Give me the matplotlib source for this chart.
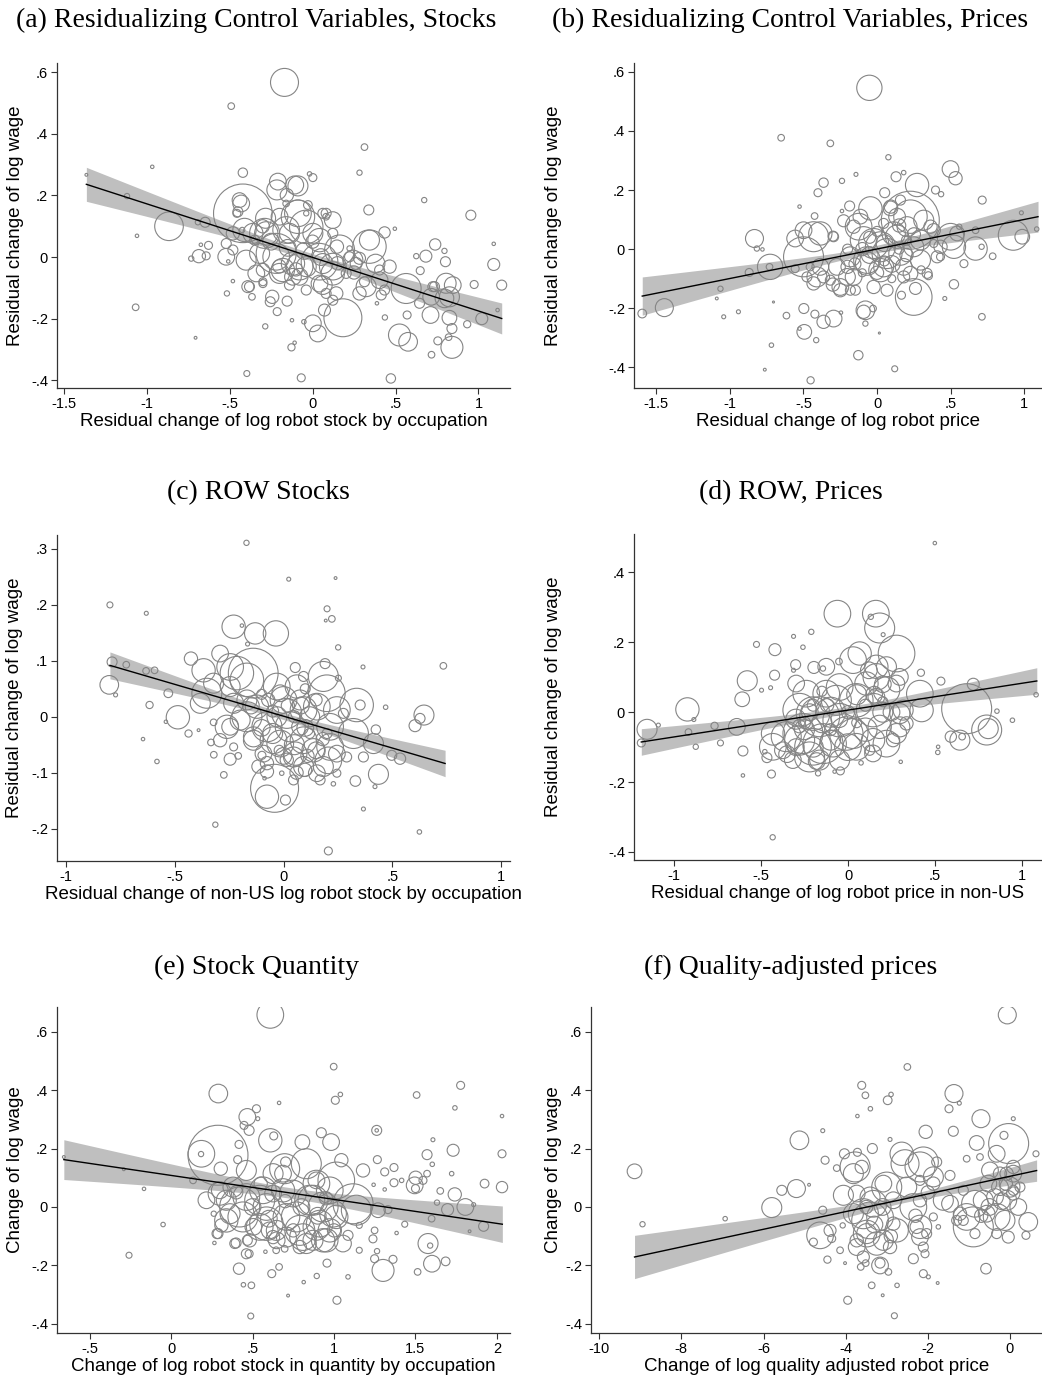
import numpy as np
import matplotlib
matplotlib.use("Agg")
import matplotlib.pyplot as plt

# ---- panel (a): residualized stocks ----
a_x = [-0.169, -0.49, 0.313, -0.966, -1.363, -0.42, 0.283, -1.118, 0.673, -0.018,
       0.002, -0.865, -1.058, -0.42, 0.954, 0.339, 1.092, 1.092, 1.14, 0.974,
       1.115, 1.02, 0.932, 0.84, 0.717, 0.755, 0.82, 0.472, -0.068, -0.396,
       -0.127, -0.108, -0.285, -0.124, -0.052, -0.705, -1.066, -0.516, 0.002, 0.032,
       0.183, 0.524, 0.576, 0.57, 0.436, 0.388, 0.711, 0.795, 0.825, 0.84,
       0.801, 0.739, 0.795, 0.683, 0.625, 0.649, 0.564, 0.735, 0.805, 0.496,
       0.434, 0.343, 0.343, 0.38, 0.323, 0.414, 0.283, 0.283, 0.203, 0.042,
       0.122, 0.062, 0.143, 0.072, 0.122, -0.038, 0.002, 0.062, 0.082, -0.028,
       -0.038, -0.088, -0.108, -0.209, -0.155, -0.159, -0.289, -0.219, -0.139, -0.359,
       -0.44, -0.456, -0.48, -0.424, -0.4, -0.339, -0.39, -0.365, -0.48, -0.508,
       -0.52, -0.685, -0.731, -0.647, -0.627, -0.641, -0.673, -0.691, -0.243, -0.255,
       -0.153, -0.213, -0.299, -0.179, -0.078, -0.118, 0.147, 0.223, 0.263, 0.122,
       0.223, 0.404, 0.434, 0.464,
       -0.215, -0.088, -0.43, -0.45, -0.283, -0.199, -0.088, 0.082, 0.122, -0.41,
       -0.349, -0.279, -0.159, -0.038, 0.042, 0.163, 0.243, -0.52, -0.48, -0.319,
       -0.219, -0.118, -0.038, 0.062, 0.122, 0.042, -0.078, -0.199, -0.299, -0.38,
       -0.299, -0.139, 0.082, 0.313, 0.404, 0.725, 0.715, 0.825, 0.845, 0.645,
       -0.25, -0.15, -0.05, 0.05, -0.3, -0.2, 0.0, 0.15, -0.1, 0.25]
a_y = [0.567, 0.49, 0.357, 0.293, 0.267, 0.274, 0.274, 0.198, 0.185, 0.27,
       0.258, 0.10, 0.069, 0.142, 0.136, 0.153, 0.043, -0.024, -0.091, -0.089,
       -0.172, -0.2, -0.218, -0.293, -0.317, -0.272, -0.26, -0.394, -0.392, -0.378,
       -0.293, -0.278, -0.225, -0.205, -0.21, -0.262, -0.163, -0.118, -0.215, -0.248,
       -0.197, -0.253, -0.275, -0.188, -0.196, -0.15, -0.188, -0.134, -0.197, -0.232,
       -0.015, 0.041, 0.02, 0.003, 0.003, -0.044, -0.102, -0.096, -0.085, 0.092,
       0.08, 0.055, 0.034, -0.021, -0.096, -0.123, -0.118, -0.004, -0.053, -0.015,
       -0.031, -0.091, -0.118, -0.172, -0.14, -0.107, 0.077, 0.142, 0.131, 0.169,
       0.142, 0.131, 0.234, 0.245, 0.201, 0.174, 0.077, 0.012, 0.077, 0.077,
       0.185, 0.142, 0.077, 0.088, -0.01, -0.053, -0.096, -0.129, -0.078, -0.014,
       0.044, 0.003, -0.005, 0.113, 0.038, 0.004, 0.04, 0.113, -0.129, -0.145,
       -0.143, -0.177, -0.08, -0.042, -0.031, -0.064, 0.034, 0.001, -0.021, 0.077,
       0.028, -0.075, -0.107, -0.031,
       0.218, 0.231, 0.174, 0.147, 0.126, 0.131, 0.142, 0.142, 0.12, 0.088,
       0.055, 0.077, 0.088, 0.098, 0.055, 0.023, -0.01, 0.001, 0.023, 0.012,
       0.001, -0.021, -0.031, -0.021, -0.053, -0.086, -0.064, -0.053, -0.042, -0.096,
       -0.086, -0.091, -0.118, -0.08, -0.042, -0.096, -0.129, -0.129, -0.091, -0.15,
       0.05, 0.03, 0.02, 0.0, 0.1, -0.03, 0.05, -0.02, -0.04, -0.05]
a_w = [196, 11, 11, 3, 2, 22, 7, 7, 7, 5,
       16, 205, 3, 860, 25, 25, 3, 36, 25, 16,
       3, 36, 13, 121, 11, 16, 11, 22, 16, 9,
       13, 3, 7, 3, 5, 2, 11, 7, 70, 70,
       360, 121, 87, 16, 7, 3, 70, 87, 54, 25,
       25, 32, 7, 36, 7, 16, 225, 25, 100, 3,
       32, 100, 280, 87, 100, 25, 44, 36, 25, 336,
       178, 87, 44, 36, 25, 25, 100, 25, 11, 19,
       7, 280, 81, 70, 44, 11, 225, 400, 100, 100,
       54, 16, 44, 7, 100, 70, 36, 11, 3, 3,
       25, 44, 7, 25, 16, 16, 3, 7, 44, 25,
       25, 16, 16, 136, 178, 70, 44, 25, 36, 25,
       7, 70, 25, 44,
       100, 100, 70, 25, 100, 70, 178, 25, 70, 136,
       25, 136, 178, 280, 136, 225, 100, 70, 25, 100,
       178, 136, 100, 100, 136, 70, 70, 100, 44, 25,
       16, 25, 25, 25, 25, 25, 70, 100, 70, 25,
       70, 70, 70, 70, 44, 44, 44, 44, 44, 44]
# fit: x from, x to, intercept, slope, ci half-width at mean, mean x, slope se
a_fit = [-1.363, 1.14, -0.001, -0.174, 0.012, -0.05, 0.041]

# ---- panel (b): residualized prices ----
b_x = [-0.052, -0.651, -0.317, 0.077, -0.143, 0.499, 0.533, 0.129, 0.181, -0.238,
       -0.363, -0.401, 0.226, 0.397, 0.435, 0.714, 0.052, -0.045, -0.186, -0.238,
       -0.227, -0.424, -0.526, -0.113, -0.299, -0.431, -0.556, -0.499, -0.832, -0.816,
       -0.778, -0.726, -0.73, -0.868, -1.063, -1.088, -1.444, -1.594, -1.041, -0.941,
       -0.703, -0.615, -0.497, -0.526, -0.494, -0.413, -0.422, -0.363, -0.295, -0.245,
       -0.717, -0.762, -0.451, -0.127, 0.12, 0.016, -0.079, -0.091, -0.027, -0.079,
       0.249, 0.261, 0.166, 0.522, 0.46, 0.349, 0.712, 0.59, 0.499, 0.544,
       0.669, 0.71, 0.669, 0.785, 0.925, 0.986, 0.98, 1.084, 0.558, -0.091,
       0.023, 0.113, 0.204, 0.295, 0.363, 0.295, 0.159, 0.045, -0.068, -0.181,
       -0.159, -0.023, 0.068, -0.272, -0.249, -0.317, -0.385, -0.431, -0.363, -0.454,
       -0.181, 0.181, 0.408, 0.385, 0.431, 0.227, -0.159, 0.093, 0.136, 0.159,
       0.045,
       0.272, 0.091, 0.227, -0.125, -0.295, -0.385, -0.499, -0.408, -0.204, -0.249,
       -0.147, 0.023, -0.068, 0.068, -0.023, 0.136, 0.249, 0.181, 0.317, 0.385,
       0.431, 0.34, 0.522, -0.476, -0.556, -0.1, 0.1, 0.0, 0.2, -0.2,
       0.3, 0.05, -0.05, 0.15, -0.15,
       -0.05, 0.05, 0.1, -0.1, 0.0, 0.2, -0.2, 0.25, 0.15, -0.3]
b_y = [0.546, 0.377, 0.358, 0.311, 0.253, 0.271, 0.24, 0.245, 0.259, 0.231,
       0.225, 0.191, 0.098, 0.2, 0.186, 0.166, 0.191, 0.138, 0.146, 0.129,
       0.096, 0.112, 0.144, 0.11, 0.044, 0.042, 0.036, -0.026, 0.036, 0.002,
       -0.001, -0.06, -0.06, -0.079, -0.134, -0.167, -0.198, -0.218, -0.229, -0.212,
       -0.179, -0.225, -0.201, -0.269, -0.28, -0.308, -0.22, -0.246, -0.235, -0.215,
       -0.325, -0.408, -0.444, -0.359, -0.405, -0.284, -0.207, -0.212, -0.201, -0.252,
       -0.162, -0.133, -0.156, -0.119, -0.167, -0.09, -0.229, -0.049, 0.042, 0.053,
       0.002, 0.008, 0.064, -0.024, 0.047, 0.042, 0.123, 0.068, 0.076, 0.031,
       0.008, 0.053, 0.076, 0.031, 0.076, -0.037, -0.015, -0.06, -0.049, -0.026,
       -0.094, -0.128, -0.139, -0.06, -0.128, -0.105, -0.06, -0.116, -0.094, -0.06,
       -0.139, -0.094, -0.026, 0.019, -0.026, -0.083, 0.076, 0.144, 0.11, 0.166,
       0.087,
       0.217, 0.138, 0.11, 0.076, 0.042, 0.053, 0.064, -0.094, -0.094, -0.139,
       -0.139, -0.071, -0.037, -0.015, 0.019, 0.042, 0.008, -0.06, 0.098, 0.064,
       0.008, -0.082, 0.008, -0.094, -0.066, -0.08, -0.1, 0.06, 0.03, 0.0,
       -0.07, -0.04, 0.04, 0.0, -0.05,
       -0.02, 0.02, -0.05, 0.0, -0.08, -0.02, -0.06, 0.05, 0.08, -0.12]
b_w = [160, 11, 11, 7, 4, 70, 44, 25, 5, 7,
       22, 16, 840, 16, 7, 16, 25, 136, 25, 3,
       36, 11, 3, 54, 25, 225, 70, 400, 81, 7,
       3, 160, 11, 16, 7, 2, 81, 19, 4, 4,
       1, 11, 25, 3, 54, 7, 16, 44, 70, 3,
       5, 2, 13, 22, 9, 1, 87, 44, 11, 7,
       336, 36, 16, 22, 4, 16, 11, 16, 178, 54,
       136, 7, 11, 11, 225, 54, 4, 5, 7, 178,
       225, 136, 100, 100, 44, 100, 136, 100, 136, 100,
       70, 44, 36, 70, 70, 25, 70, 44, 36, 16,
       25, 36, 36, 16, 16, 54, 44, 44, 70, 25,
       25,
       136, 54, 280, 178, 25, 136, 70, 100, 70, 44,
       25, 136, 178, 225, 225, 136, 100, 70, 100, 44,
       44, 25, 136, 25, 16, 16, 16, 25, 25, 25,
       16, 25, 36, 25, 36,
       70, 70, 70, 44, 44, 44, 44, 44, 44, 44]
b_fit = [-1.594, 1.093, 0.0005, 0.1, 0.012, -0.1, 0.0426]

# ---- panel (c): ROW stocks ----
c_x = [-0.17, 0.024, 0.239, -0.797, -0.63, 0.2, 0.222, 0.194, 0.251, 0.734,
       0.365, -0.229, -0.13, -0.035, -0.191, -0.165, -0.787, -0.722, -0.8, -0.771,
       -0.631, -0.592, -0.529, -0.615, -0.485, -0.54, -0.436, -0.39, -0.645, -0.581,
       -0.425, -0.382, -0.352, -0.313, -0.333, -0.32, -0.274, -0.245, -0.208, -0.229,
       -0.321, -0.26, -0.041, -0.076, 0.009, -0.076, -0.099, -0.087, -0.008, 0.206,
       0.624, 0.367, 0.42, 0.436, 0.33, 0.229, 0.535, 0.497, 0.413, 0.424,
       0.604, 0.645, 0.627, 0.469, 0.352, 0.336, 0.321, 0.367, 0.191, 0.252,
       0.054, 0.199, 0.153, 0.214, 0.206, 0.138, 0.099, 0.153, 0.054, -0.015,
       -0.076, 0.015, 0.076, -0.031, -0.168, -0.139, -0.245, -0.291, -0.229, -0.199,
       -0.138, -0.122, 0.076, 0.092, 0.275, 0.29, 0.245, 0.168, 0.046,
       -0.367, -0.214, -0.168, 0.0, 0.061, -0.015, 0.092, 0.031, -0.046, -0.138,
       0.092, 0.183, 0.245, 0.214, 0.046, 0.245, 0.183, 0.092, 0.015, -0.245,
       -0.291, -0.092, -0.115, -0.076, -0.168, -0.245, -0.321, 0.12, 0.05, -0.05,
       0.15, -0.1, 0.2, 0.1, -0.02,
       -0.05, 0.05, 0.1, 0.0, -0.1, 0.15, 0.08, -0.03, 0.12, -0.15,
       0.02, 0.18, -0.07, 0.06, 0.11]
c_y = [0.311, 0.246, 0.248, 0.2, 0.185, 0.193, 0.175, 0.172, 0.124, 0.091,
       0.089, 0.161, 0.149, 0.149, 0.163, 0.13, 0.098, 0.093, 0.057, 0.039,
       0.082, 0.083, 0.042, 0.021, -0.001, -0.009, -0.03, -0.024, -0.04, -0.08,
       0.104, 0.024, 0.042, -0.193, -0.046, -0.068, -0.104, -0.076, -0.07, -0.054,
       -0.01, -0.018, -0.128, -0.143, -0.149, -0.098, -0.069, -0.11, -0.101, -0.24,
       -0.206, -0.165, -0.125, -0.103, -0.115, -0.12, -0.075, -0.069, -0.048, -0.023,
       -0.016, 0.003, -0.003, 0.017, 0.021, 0.021, -0.03, -0.072, 0.095, 0.069,
       0.088, 0.042, 0.018, -0.018, -0.078, -0.06, -0.095, -0.101, -0.066, -0.048,
       -0.018, 0.006, 0.03, 0.054, 0.066, 0.078, 0.089, 0.113, 0.024, -0.006,
       -0.042, 0.018, -0.018, 0.072, 0.006, -0.072, -0.101, -0.113, -0.113,
       0.083, 0.078, 0.0, 0.03, 0.054, 0.042, 0.012, -0.018, -0.042, -0.036,
       -0.042, 0.072, 0.012, -0.054, -0.072, -0.066, -0.089, -0.089, -0.077, -0.018,
       -0.042, -0.066, -0.089, -0.083, 0.03, 0.054, 0.06, -0.03, 0.0, 0.01,
       0.03, 0.04, -0.03, 0.05, -0.06,
       -0.03, -0.05, -0.02, -0.07, -0.02, -0.06, 0.02, 0.0, 0.0, 0.02,
       0.02, -0.04, 0.03, -0.1, -0.07]
c_w = [7, 4, 2, 9, 4, 9, 11, 2, 7, 11,
       4, 136, 114, 160, 3, 4, 25, 11, 87, 4,
       11, 11, 19, 13, 136, 3, 13, 2, 3, 5,
       44, 100, 225, 7, 11, 11, 11, 36, 11, 16,
       11, 136, 576, 136, 25, 44, 16, 3, 5, 16,
       5, 4, 4, 100, 28, 5, 32, 25, 100, 22,
       36, 100, 25, 5, 25, 280, 225, 25, 25, 9,
       25, 336, 178, 178, 178, 136, 44, 70, 136, 178,
       225, 225, 100, 178, 280, 620, 178, 70, 100, 100,
       100, 136, 70, 25, 25, 25, 16, 25, 25,
       136, 280, 225, 178, 136, 70, 178, 225, 178, 100,
       178, 225, 178, 178, 100, 70, 100, 100, 44, 70,
       44, 70, 44, 44, 100, 100, 100, 25, 36, 36,
       36, 25, 25, 25, 25,
       100, 100, 70, 70, 70, 70, 70, 100, 100, 70,
       44, 44, 44, 44, 44]
c_fit = [-0.797, 0.742, 0.001, -0.114, 0.006, -0.02, 0.03]

# ---- panel (d): ROW prices ----
d_x = [0.499, -0.433, -0.061, 0.16, 0.131, 0.182, 0.202, -0.211, -0.313, -0.526,
       -0.42, -0.259, -0.579, -0.608, -0.422, -0.497, -0.445, -0.301, -0.313, -0.196,
       -0.144, -0.052, 0.029, -0.923, -1.155, -1.188, -1.09, -0.917, -0.886, -0.875,
       -0.767, -0.733, -0.639, -0.604, -0.604, -0.44, -0.466, -0.478, -0.431, -0.355,
       -0.259, -0.201, -0.201, -0.24, -0.125, -0.048, -0.048, 0.048, 0.029, -0.086,
       -0.163, -0.048, -0.172, -0.044, -0.077, 0.075, 0.125, 0.221, 0.144, 0.221,
       0.279, 0.163, 0.298, 0.067, 0.106, 0.298, 0.279, 0.303, 0.413, 0.423,
       0.419, 0.534, 0.518, 0.516, 0.682, 0.643, 0.591, 0.656, 0.72, 0.797,
       0.806, 0.856, 0.945, 1.081, -0.3, -0.1, 0.0, -0.35, 0.2, 0.1,
       -0.278, -0.163, -0.067, -0.01, -0.144, -0.278, -0.432, -0.221, 0.048, 0.144,
       0.182, 0.298, 0.317, 0.163, -0.125, -0.298, 0.221, 0.278, -0.374, -0.317,
       0.144, 0.259, 0.336, 0.163, -0.2, -0.1, 0.0, 0.1, -0.25, 0.05,
       -0.15, 0.2,
       -0.25, -0.2, -0.15, -0.3, -0.22, -0.1, -0.05, -0.18, -0.28, 0.05,
       0.15, 0.2, 0.12, 0.25, -0.12]
d_y = [0.484, -0.358, 0.282, 0.282, 0.273, 0.241, 0.222, 0.23, 0.217, 0.194,
       0.179, 0.186, 0.09, 0.037, 0.106, 0.063, 0.07, 0.136, 0.12, 0.128,
       0.125, 0.145, 0.149, 0.008, -0.049, -0.088, -0.037, -0.057, -0.021, -0.099,
       -0.039, -0.088, -0.042, -0.111, -0.181, -0.177, -0.13, -0.113, -0.061, -0.07,
       -0.061, -0.099, -0.004, 0.053, 0.053, 0.072, -0.023, 0.034, -0.061, -0.09,
       -0.137, -0.137, -0.175, -0.168, -0.17, -0.145, -0.109, -0.09, 0.006, 0.063,
       0.168, 0.13, 0.101, 0.168, 0.082, -0.004, -0.061, -0.142, 0.053, 0.006,
       0.113, 0.089, -0.099, -0.115, 0.01, -0.08, -0.07, -0.07, 0.08, -0.051,
       -0.047, 0.003, -0.023, 0.05, -0.02, 0.0, -0.1, -0.12, 0.0, -0.05,
       0.006, -0.013, 0.034, -0.061, -0.09, -0.08, -0.099, -0.128, -0.099, -0.08,
       -0.042, -0.042, 0.006, 0.044, 0.13, 0.082, 0.13, 0.082, -0.109, -0.137,
       -0.118, -0.08, -0.032, 0.101, 0.02, -0.05, 0.0, 0.02, -0.03, -0.03,
       0.06, 0.03,
       -0.05, -0.1, -0.03, -0.1, 0.0, -0.08, -0.02, -0.14, -0.04, 0.05,
       0.05, 0.08, 0.12, 0.0, 0.02]
d_w = [3, 7, 178, 178, 7, 225, 4, 7, 4, 9,
       36, 5, 100, 54, 25, 4, 4, 25, 4, 36,
       7, 11, 178, 136, 100, 16, 4, 11, 4, 7,
       13, 9, 70, 25, 3, 16, 25, 5, 136, 225,
       400, 336, 280, 178, 178, 178, 280, 280, 225, 178,
       100, 100, 7, 16, 3, 5, 25, 178, 280, 178,
       336, 136, 70, 136, 136, 100, 100, 3, 178, 136,
       13, 16, 3, 5, 625, 100, 32, 11, 36, 225,
       100, 5, 5, 5, 100, 225, 178, 70, 100, 136,
       280, 400, 225, 280, 400, 225, 178, 225, 178, 136,
       136, 100, 100, 70, 70, 70, 100, 70, 70, 70,
       70, 44, 44, 178, 36, 36, 44, 36, 36, 25,
       25, 25,
       100, 100, 100, 70, 70, 100, 70, 70, 44, 100,
       70, 70, 70, 70, 44]
d_fit = [-1.188, 1.085, 0.006, 0.0768, 0.01, -0.05, 0.0322]

# ---- panel (e): stock quantity ----
e_x = [0.609, 0.998, 0.29, 1.008, 1.039, 0.663, 1.777, 1.507, 1.742, 2.031,
       0.524, 0.468, 0.532, 0.448, 0.479, 0.288, 0.184, 0.417, 0.305, 0.409,
       0.462, 0.609, 0.63, 0.703, 0.922, 0.982, 0.806, 0.83, 1.045, 1.014,
       1.178, 1.262, 1.262, 1.266, 1.243, 1.311, 1.368, 1.368, 1.311, 1.415,
       1.501, 1.5, 1.571, 1.607, 1.603, 1.571, 1.546, 1.652, 1.632, 1.722,
       1.741, 1.731, 1.697, 1.806, 1.857, 1.924, 2.031, 2.031, 1.918, 1.832,
       1.599, 1.577, 1.59, 1.601, 1.685, 1.513, 1.434, 1.384, 1.362, 1.301,
       1.249, 1.264, 1.239, 1.249, 1.27, 1.331, 1.155, 1.155, 1.086, 1.018,
       0.957, 0.894, 0.814, 0.718, 0.489, 0.493, 0.444, 0.417, 0.618, 0.663,
       0.479, 0.468, 0.399, 0.579, 0.645, 0.697, 0.266, 0.282, 0.309, 0.262,
       0.135, -0.049, -0.258, -0.166, -0.29, -0.658, 0.421, 0.544, 0.299, 0.38,
       0.585, 0.708, 0.79, 0.748, 0.871, 0.912, 0.994, 0.953, 0.871, 1.117,
       1.086, 0.217, 0.362, 0.505, 0.648, 0.687, 0.892, 0.626, 0.79,
       0.186, 0.697, 0.299, 0.339, 0.462, 0.564, 0.626, 0.687, 0.585, 0.441,
       0.339, 0.544, 0.646, 0.769, 0.851, 0.892, 0.974, 0.933, 1.014, 0.892,
       0.81, 0.974, 0.933, 0.83, 0.708, 0.605, 0.626, 0.483, 0.462, 0.391,
       0.288, 1.055, 1.137, 1.495,
       0.5, 0.6, 0.9, 0.95, 0.8, 0.7, 0.4, 0.55, 1.0, 0.75]
e_y = [0.657, 0.48, 0.388, 0.365, 0.385, 0.356, 0.416, 0.383, 0.339, 0.311,
       0.336, 0.308, 0.302, 0.279, 0.262, 0.177, 0.181, 0.214, 0.131, 0.162,
       0.125, 0.228, 0.243, 0.154, 0.254, 0.222, 0.222, 0.148, 0.16, 0.091,
       0.125, 0.262, 0.262, 0.162, 0.076, 0.12, 0.135, 0.083, 0.06, 0.091,
       0.1, 0.063, 0.179, 0.23, 0.146, 0.114, 0.091, 0.055, 0.015, 0.114,
       0.043, 0.194, -0.009, 0.0, 0.008, 0.08, 0.068, 0.182, -0.066, -0.083,
       -0.04, -0.125, -0.132, -0.194, -0.186, -0.222, -0.059, -0.089, -0.179, -0.217,
       -0.177, -0.151, -0.109, -0.08, -0.011, -0.009, -0.063, -0.148, -0.239, -0.319,
       -0.192, -0.236, -0.257, -0.303, -0.373, -0.268, -0.266, -0.211, -0.228, -0.205,
       -0.16, -0.114, -0.123, -0.153, -0.148, -0.143, -0.123, -0.091, -0.063, -0.023,
       0.091, -0.06, -0.165, 0.062, 0.129, 0.171, 0.0, 0.023, 0.046, 0.068,
       -0.057, -0.034, -0.08, 0.046, 0.023, -0.057, -0.023, -0.114, -0.114, 0.011,
       -0.097, 0.023, -0.023, -0.068, -0.114, 0.114, 0.091, 0.046, -0.137,
       0.182, 0.131, 0.057, 0.023, 0.034, 0.057, 0.114, 0.057, 0.0, -0.034,
       -0.046, -0.068, -0.08, -0.034, 0.023, 0.08, 0.057, 0.0, -0.034, -0.068,
       -0.103, -0.08, -0.114, -0.125, -0.103, -0.08, -0.103, -0.114, -0.16, -0.125,
       -0.091, -0.125, -0.011, 0.074,
       0.0, -0.04, -0.03, 0.03, 0.0, 0.02, 0.05, 0.08, -0.08, -0.08]
e_w = [178, 11, 87, 16, 5, 3, 16, 11, 5, 3,
       16, 70, 4, 16, 25, 900, 7, 16, 44, 16,
       100, 136, 16, 25, 25, 70, 54, 225, 44, 336,
       44, 25, 3, 16, 3, 16, 16, 16, 3, 5,
       44, 16, 25, 4, 5, 11, 16, 11, 7, 5,
       44, 36, 36, 70, 4, 19, 32, 16, 25, 2,
       11, 100, 7, 70, 19, 11, 9, 3, 16, 121,
       16, 7, 16, 11, 54, 16, 9, 9, 5, 16,
       16, 7, 3, 2, 9, 11, 5, 32, 16, 11,
       16, 25, 25, 3, 11, 11, 3, 25, 44, 7,
       11, 5, 9, 3, 2, 2, 400, 225, 136, 100,
       280, 178, 225, 178, 225, 178, 178, 136, 100, 400,
       25, 70, 100, 70, 70, 70, 70, 70, 44,
       178, 225, 70, 100, 178, 178, 100, 136, 178, 225,
       136, 178, 100, 225, 225, 178, 178, 225, 136, 178,
       178, 136, 136, 100, 100, 70, 44, 44, 25, 25,
       25, 70, 225, 70,
       70, 70, 70, 44, 70, 44, 44, 44, 44, 44]
e_fit = [-0.658, 2.033, 0.108, -0.0821, 0.018, 0.75, 0.0466]

# ---- panel (f): quality-adjusted prices ----
f_x = [-0.065, -2.498, -3.609, -3.52, -2.895, -2.977, -3.398, -3.714, -1.363, -1.233,
       -1.484, -1.379, -2.052, 0.081, -0.706, -0.032, -0.146, 0.633, -0.811, -0.73,
       -0.324, -4.558, -2.92, -5.126, -3.35, -4.03, -3.714, -4.501, -4.217, -2.555,
       -2.109, -1.784, -1.46, -3.609, -3.812, -9.14, -8.946, -6.934, -5.799, -5.555,
       -5.199, -4.891, -4.558, -4.785, -4.623, -4.38, -4.34, -4.444, -4.072, -4.136,
       -4.015, -4.055, -3.95, -3.366, -3.098, -2.814, -2.749, -2.96, -3.163, -3.163,
       -3.512, -3.633, -2.109, -1.987, -1.76, -0.584, -2.352, -2.068, -2.028, -2.271,
       -1.744, -1.865, -1.622, -1.46, -1.298, -1.136, -0.892, -0.852, -0.649, -0.852,
       -0.568, -0.365, -0.081, -0.122, -0.041, 0.203, 0.446, 0.389, -0.324, 0.081,
       -0.243, -0.487, 0.243, 0.081, -1.054, -3.406, -3.163, -3.487, -3.082, -3.406,
       -3.082, -2.839, -3.812, -3.731, -2.839, -2.514, -2.19, -1.866, -2.19,
       -2.636, -2.19, -3.771, -3.0, -3.325, -3.731, -3.569, -3.487, -3.244, -2.758,
       -2.19, -2.352, -1.865, -1.054, -0.324, 0.0, 0.081, -3.731, -3.569, -2.92,
       -2.19, -2.109, -1.217, -1.135, -0.527, -0.243, -0.081, 0.081,
       -3.3, -3.1, -3.5, -2.9, -0.5, -0.2, -0.7, -0.1, -2.0, -2.3]
f_y = [0.657, 0.479, 0.416, 0.382, 0.385, 0.365, 0.336, 0.311, 0.388, 0.355,
       0.336, 0.259, 0.257, 0.302, 0.302, 0.217, 0.245, 0.182, 0.219, 0.171,
       0.182, 0.261, 0.231, 0.228, 0.2, 0.182, 0.187, 0.16, 0.133, 0.148,
       0.154, 0.154, 0.108, 0.137, 0.114, 0.122, -0.059, -0.04, -0.002, 0.057,
       0.063, 0.076, -0.011, -0.12, -0.097, -0.08, -0.108, -0.18, -0.063, -0.148,
       -0.192, 0.04, -0.319, -0.268, -0.302, -0.372, -0.268, -0.222, -0.2, -0.192,
       -0.192, -0.205, -0.228, -0.239, -0.26, -0.211, -0.177, -0.16, -0.091, -0.068,
       -0.068, -0.034, 0.023, 0.011, -0.046, -0.046, -0.068, 0.011, 0.023, -0.091,
       -0.023, 0.034, 0.023, -0.046, -0.103, 0.0, -0.051, -0.097, -0.091, 0.114,
       0.114, 0.125, 0.068, 0.046, 0.165, -0.046, -0.034, -0.091, -0.114, 0.034,
       0.08, 0.023, -0.023, -0.114, -0.057, 0.068, 0.023, 0.08, 0.091,
       0.182, 0.137, 0.137, 0.068, 0.011, 0.046, -0.023, -0.091, -0.125, -0.08,
       -0.068, 0.0, 0.103, -0.034, -0.034, 0.068, 0.137, -0.137, -0.171, -0.137,
       -0.103, -0.137, -0.023, 0.057, 0.08, 0.068, 0.114, 0.057,
       -0.06, 0.0, 0.0, -0.1, 0.0, 0.02, -0.03, 0.08, 0.05, -0.03]
f_w = [81, 11, 16, 11, 5, 19, 5, 3, 81, 4,
       16, 25, 44, 4, 81, 400, 16, 9, 54, 11,
       70, 4, 4, 87, 25, 25, 16, 16, 11, 196,
       225, 25, 25, 44, 100, 54, 7, 5, 100, 25,
       81, 2, 16, 16, 178, 36, 16, 13, 7, 11,
       2, 100, 16, 11, 2, 9, 5, 11, 70, 25,
       11, 11, 16, 4, 2, 28, 25, 16, 25, 44,
       5, 16, 100, 70, 25, 25, 400, 178, 100, 25,
       70, 70, 100, 100, 36, 70, 87, 16, 25, 70,
       44, 70, 25, 44, 11, 336, 178, 100, 100, 100,
       70, 70, 100, 44, 44, 100, 44, 44, 25,
       136, 225, 225, 225, 178, 70, 225, 178, 136, 136,
       136, 178, 100, 178, 178, 100, 44, 70, 36, 44,
       70, 25, 44, 25, 70, 70, 44, 25,
       70, 70, 44, 44, 70, 70, 44, 44, 44, 44]
f_fit = [-9.14, 0.649, 0.105, 0.0302, 0.012, -2.5, 0.011]

titles = ["(a) Residualizing Control Variables, Stocks",
          "(b) Residualizing Control Variables, Prices",
          "(c) ROW Stocks", "(d) ROW, Prices",
          "(e) Stock Quantity", "(f) Quality-adjusted prices"]
xlabels = ["Residual change of log robot stock by occupation",
           "Residual change of log robot price",
           "Residual change of non-US log robot stock by occupation",
           "Residual change of log robot price in non-US",
           "Change of log robot stock in quantity by occupation",
           "Change of log quality adjusted robot price"]
ylabels = ["Residual change of log wage"] * 4 + ["Change of log wage"] * 2


def tick_text(v):
    s = "%g" % v
    if s.startswith("0."):
        s = s[1:]
    elif s.startswith("-0."):
        s = "-" + s[2:]
    return s


def draw(ax, xs, ys, ws, fit, xlim, ylim, xt, yt, xlabel, ylabel, ylab_x):
    x0, x1, b0, b1, h0, xm, hs = fit
    gx = np.linspace(x0, x1, 200)
    gy = b0 + b1 * gx
    half = np.sqrt(h0 ** 2 + (hs * (gx - xm)) ** 2)
    ax.fill_between(gx, gy - half, gy + half, color="#bfbfbf", lw=0, zorder=1)
    ax.scatter(xs, ys, s=np.array(ws) * 2.07, facecolors="none",
               edgecolors="#858585", linewidths=0.8, zorder=2)
    ax.plot(gx, gy, color="black", lw=1.0, zorder=3)
    ax.set_xlim(xlim)
    ax.set_ylim(ylim)
    ax.set_xticks(xt)
    ax.set_xticklabels([tick_text(v) for v in xt])
    ax.set_yticks(yt)
    ax.set_yticklabels([tick_text(v) for v in yt])
    for s in ["top", "right"]:
        ax.spines[s].set_visible(False)
    for s in ["left", "bottom"]:
        ax.spines[s].set_color("#333333")
        ax.spines[s].set_linewidth(0.9)
    ax.tick_params(direction="out", length=4, width=0.8, color="#333333",
                   labelsize=10.5, pad=2.5)
    ax.set_xlabel(xlabel, fontsize=13.5, labelpad=1.5)
    ax.set_ylabel(ylabel, fontsize=13.5)
    ax.yaxis.set_label_coords(ylab_x, 0.5)


plt.rcParams["font.family"] = ["Liberation Sans", "DejaVu Sans"]
fig = plt.figure(figsize=(10.42, 13.79), dpi=100)

W, H = 1042.0, 1379.0


def box(l, r, t, b):
    return [l / W, 1 - b / H, (r - l) / W, (b - t) / H]


ax_a = fig.add_axes(box(57, 510, 63, 388))
ax_b = fig.add_axes(box(634, 1042, 63, 388))
ax_c = fig.add_axes(box(57, 510, 535, 861))
ax_d = fig.add_axes(box(634, 1042, 534, 860))
ax_e = fig.add_axes(box(57, 510, 1007, 1333))
ax_f = fig.add_axes(box(591, 1042, 1007, 1333))

draw(ax_a, a_x, a_y, a_w, a_fit, (-1.54, 1.19), (-0.425, 0.63),
     [-1.5, -1, -0.5, 0, 0.5, 1], [-0.4, -0.2, 0, 0.2, 0.4, 0.6],
     xlabels[0], ylabels[0], -0.073)
draw(ax_b, b_x, b_y, b_w, b_fit, (-1.65, 1.12), (-0.47, 0.63),
     [-1.5, -1, -0.5, 0, 0.5, 1], [-0.4, -0.2, 0, 0.2, 0.4, 0.6],
     xlabels[1], ylabels[1], -0.176)
draw(ax_c, c_x, c_y, c_w, c_fit, (-1.04, 1.04), (-0.258, 0.325),
     [-1, -0.5, 0, 0.5, 1], [-0.2, -0.1, 0, 0.1, 0.2, 0.3],
     xlabels[2], ylabels[2], -0.075)
draw(ax_d, d_x, d_y, d_w, d_fit, (-1.23, 1.115), (-0.423, 0.51),
     [-1, -0.5, 0, 0.5, 1], [-0.4, -0.2, 0, 0.2, 0.4],
     xlabels[3], ylabels[3], -0.176)
draw(ax_e, e_x, e_y, e_w, e_fit, (-0.70, 2.08), (-0.431, 0.684),
     [-0.5, 0, 0.5, 1, 1.5, 2], [-0.4, -0.2, 0, 0.2, 0.4, 0.6],
     xlabels[4], ylabels[4], -0.073)
draw(ax_f, f_x, f_y, f_w, f_fit, (-10.2, 0.78), (-0.431, 0.684),
     [-10, -8, -6, -4, -2, 0], [-0.4, -0.2, 0, 0.2, 0.4, 0.6],
     xlabels[5], ylabels[5], -0.064)

title_pos = [(256, 20), (790, 20), (258, 493), (791, 493), (257, 967), (791, 967)]
for (tx, ty), t in zip(title_pos, titles):
    fig.text(tx / W, 1 - ty / H, t, ha="center", va="center",
             fontsize=20, family=["Liberation Serif", "DejaVu Serif"])

fig.savefig("out.png", dpi=100)
